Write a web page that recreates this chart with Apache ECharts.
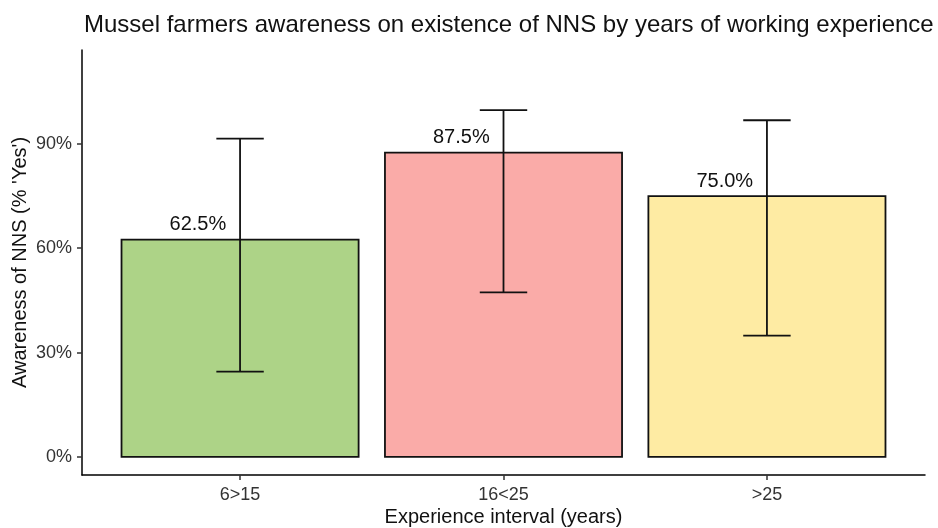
<!DOCTYPE html>
<html>
<head>
<meta charset="utf-8">
<script src="https://cdn.jsdelivr.net/npm/echarts@6/dist/echarts.min.js"></script>
<style>
  html, body { margin: 0; padding: 0; background: #fff; }
  #main { width: 938px; height: 528px; }
</style>
</head>
<body>
<div id="main"></div>
<script>
// data
const categories = ['6>15', '16<25', '>25']
const awareness = [62.5, 87.5, 75.0]
const ciLow = [24.5, 47.3, 34.9]
const ciHigh = [91.5, 99.7, 96.8]
const yTicks = [0, 30, 60, 90]

const barColors = ['#add387', '#faaba8', '#feeba3']
const font = 'Liberation Sans, Arial, sans-serif'

let chart = echarts.init(document.getElementById('main'))

let barData = categories.map((c, i) => [i + 1, awareness[i]])
let errData = categories.map((c, i) => [i + 1, ciLow[i], ciHigh[i]])

let option = {
  animation: false,
  title: {
    text: 'Mussel farmers awareness on existence of NNS by years of working experience',
    left: 79,
    top: 8,
    textStyle: {fontFamily: font, fontSize: 24, fontWeight: 'normal', color: '#111'}
  },
  grid: {left: 82, right: 13, top: 50, bottom: 53, outerBoundsMode: 'none'},
  xAxis: {
    type: 'value',
    min: 0.4,
    max: 3.6,
    name: 'Experience interval (years)',
    nameLocation: 'middle',
    nameGap: 32,
    nameMoveOverlap: false,
    nameTextStyle: {fontFamily: font, fontSize: 20, color: '#111'},
    axisLine: {show: true, onZero: false, lineStyle: {color: '#000', width: 1.5}},
    axisTick: {show: true, customValues: [1, 2, 3], length: 5, lineStyle: {color: '#333', width: 1.5}},
    axisLabel: {
      customValues: [1, 2, 3],
      formatter: v => categories[Math.round(v) - 1],
      fontFamily: font, fontSize: 18, color: '#333', margin: 11
    },
    splitLine: {show: false}
  },
  yAxis: {
    type: 'value',
    min: -5.2,
    max: 117,
    name: "Awareness of NNS (% 'Yes')",
    nameLocation: 'middle',
    nameGap: 52,
    nameMoveOverlap: false,
    nameTextStyle: {fontFamily: font, fontSize: 20, color: '#111'},
    axisLine: {show: true, onZero: false, lineStyle: {color: '#000', width: 1.5}},
    axisTick: {show: true, customValues: yTicks, length: 5, lineStyle: {color: '#333', width: 1.5}},
    axisLabel: {
      customValues: yTicks,
      formatter: v => v + '%',
      fontFamily: font, fontSize: 18, color: '#333', margin: 10
    },
    splitLine: {show: false}
  },
  series: [
    {
      type: 'custom',
      data: barData,
      renderItem(params, api){
        let x = api.value(0), y = api.value(1)
        let p0 = api.coord([x - 0.45, 0])
        let p1 = api.coord([x + 0.45, y])
        let lp = api.coord([x - 0.16, y])
        return {
          type: 'group',
          children: [
            {
              type: 'rect',
              shape: {x: p0[0], y: p1[1], width: p1[0] - p0[0], height: p0[1] - p1[1]},
              style: {fill: barColors[params.dataIndex], stroke: '#111', lineWidth: 1.8}
            },
            {
              type: 'text',
              x: lp[0], y: lp[1] - 5,
              style: {
                text: y.toFixed(1) + '%',
                fontFamily: font, fontSize: 20, fill: '#111',
                align: 'center', verticalAlign: 'bottom'
              }
            }
          ]
        }
      }
    },
    {
      type: 'custom',
      data: errData,
      z: 3,
      renderItem(params, api){
        let x = api.value(0)
        let lo = api.coord([x, api.value(1)])
        let hi = api.coord([x, api.value(2)])
        let cl = api.coord([x - 0.09, api.value(1)])[0]
        let cr = api.coord([x + 0.09, api.value(1)])[0]
        let st = {stroke: '#111', lineWidth: 1.8}
        return {
          type: 'group',
          children: [
            {type: 'line', shape: {x1: lo[0], y1: lo[1], x2: hi[0], y2: hi[1]}, style: st},
            {type: 'line', shape: {x1: cl, y1: lo[1], x2: cr, y2: lo[1]}, style: st},
            {type: 'line', shape: {x1: cl, y1: hi[1], x2: cr, y2: hi[1]}, style: st}
          ]
        }
      }
    }
  ]
}

chart.setOption(option)
window.onresize = chart.resize
</script>
</body>
</html>
